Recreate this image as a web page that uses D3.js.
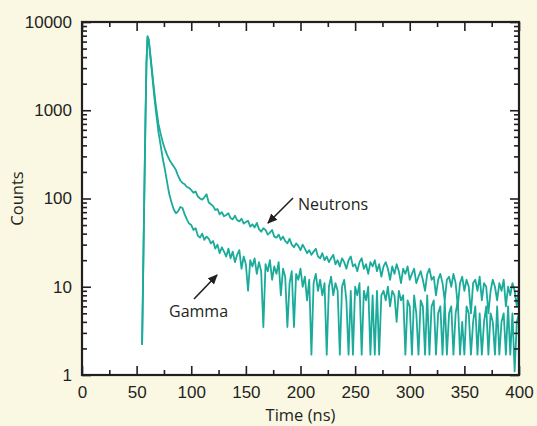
<!DOCTYPE html>
<html>
<head>
<meta charset="utf-8">
<script src="https://cdn.jsdelivr.net/npm/d3@7"></script>
<style>
  body { margin: 0; background: #faf7e3; }
  svg { display: block; font-family: "Open Sans", sans-serif; }
</style>
</head>
<body>
<div class="container"></div>
<script>
// time grid (ns): fine steps over the rise and peak, then 2 ns bins
const earlyTimes = [55, 56, 57, 58, 59, 60, 61, 62, 63, 64, 65, 66, 67, 68, 69, 70];
const lateTimes = d3.range(72, 401, 2);
const times = earlyTimes.concat(lateTimes);

// counts
const neutrons = [
  2.2, 15, 110, 700, 3500, 6900, 6400, 5000, 3800, 2900, 2200, 1700, 1300, 1050, 850, 700,
  540, 430, 360, 310, 275, 250, 230, 210, 180, 160, 150, 145, 135, 132, 125, 116, 120, 106, 100, 97,
  103, 112, 90, 86,
  82, 74, 76, 66, 70, 63, 65, 68, 60, 58,
  64, 57, 55, 59, 52, 54, 56, 48, 51, 47,
  53, 45, 42, 46, 44, 39, 41, 44, 37, 36,
  39, 34, 37, 33, 31, 35, 30, 28, 31, 29,
  26, 30, 27, 24, 26, 23, 25, 27, 22, 21,
  24, 20, 22, 19, 21, 23, 18, 20, 17, 21,
  19, 16, 20, 22, 17, 18, 15, 19, 21, 16,
  18, 14, 19, 17, 20, 15, 18, 13, 17, 19,
  16, 12, 17, 14, 18, 15, 11, 16, 14, 17,
  12,
  14, 16, 11, 13, 15, 12, 9, 14, 16, 12,
  13, 8, 12, 14, 11, 7, 12, 13, 10, 14,
  11, 6, 11, 13, 9, 12, 10, 5, 11, 12,
  9, 13, 7, 11, 10, 5, 9, 12, 10, 7,
  11, 9, 12, 6, 10, 8, 11, 9, 6, 10
];

const gamma = [
  2.2, 14, 100, 650, 3400, 6800, 6200, 4800, 3600, 2700, 2000, 1500, 1150, 900, 720, 560,
  400, 280, 210, 150, 110, 90, 75, 68, 72, 80, 78, 66, 58, 52, 50, 44, 46, 38, 36, 40,
  34, 37, 35, 31, 33, 27, 30, 24, 28, 25, 22, 27, 21, 25, 19, 23, 26, 16, 22, 18,
  9, 20, 17, 21, 14, 19, 15, 3.5, 18, 15, 20, 12, 17, 14, 19, 8, 16, 13, 3.5, 11,
  15, 3.5, 14, 12, 16, 10, 13, 7, 12, 1.7, 11, 14, 9, 12, 8, 11, 1.7, 10, 13, 8,
  11, 9, 1.7, 10, 12, 7, 1.7, 9, 1.7, 10, 8, 11, 1.7, 9, 7, 10, 1.7, 8, 1.7, 9,
  1.7, 8, 9, 7, 10, 6, 9, 8, 4, 9, 7, 8, 1.7, 7, 6, 1.7, 8, 5, 1.7, 7,
  6, 1.7, 8, 1.7, 6, 7, 1.7, 5, 6, 1.7, 7, 1.7, 5, 6, 1.7, 5, 7, 1.7, 4, 1.7,
  6, 5, 1.7, 4, 6, 1.7, 5, 1.7, 4, 6, 1.7, 5, 4, 1.7, 6, 1.7, 4, 5, 1.7, 6,
  1.7, 5, 1.1, 4, 5
];

const xTicks = [0, 50, 100, 150, 200, 250, 300, 350, 400];
const xMinorTicks = [25, 75, 125, 175, 225, 275, 325, 375];
const yTicks = [1, 10, 100, 1000, 10000];

const width = 537, height = 426;
const margin = { top: 22, right: 18, bottom: 51, left: 82 };
const lineColor = "#1aab9b";
const ink = "#231f20";

const svg = d3.select(".container")
  .append("svg")
  .attr("width", width)
  .attr("height", height);

svg.append("rect")
  .attr("width", width)
  .attr("height", height)
  .attr("fill", "#faf7e3");

const x = d3.scaleLinear().domain([0, 400]).range([margin.left, width - margin.right]);
const y = d3.scaleLog().domain([1, 10000]).range([height - margin.bottom, margin.top]);

// y minor ticks: 2..9 in every decade
const yMinorTicks = [];
yTicks.slice(0, -1).forEach(d => {
  for (let k = 2; k <= 9; k++) yMinorTicks.push(d * k);
});

// plot area
svg.append("rect")
  .attr("x", margin.left)
  .attr("y", margin.top)
  .attr("width", x(400) - x(0))
  .attr("height", y(1) - y(10000))
  .attr("fill", "#fff");

svg.append("clipPath")
  .attr("id", "clip")
  .append("rect")
  .attr("x", margin.left)
  .attr("y", margin.top)
  .attr("width", x(400) - x(0))
  .attr("height", y(1) - y(10000));

const line = d3.line()
  .defined((d, i) => times[i] !== undefined)
  .x((d, i) => x(times[i]))
  .y(d => y(d));

const curves = svg.append("g").attr("clip-path", "url(#clip)");
[gamma, neutrons].forEach(series => {
  curves.append("path")
    .datum(series)
    .attr("d", line)
    .attr("fill", "none")
    .attr("stroke", lineColor)
    .attr("stroke-width", 1.8)
    .attr("stroke-linejoin", "round");
});

// axes, ticks pointing inward
function axisLayer(axis, transform) {
  const g = svg.append("g").attr("transform", transform).call(axis);
  g.select(".domain").remove();
  g.selectAll(".tick line").attr("stroke", ink).attr("stroke-width", 1.6);
  g.selectAll(".tick text").attr("fill", ink).style("font-size", "17px");
  return g;
}

const bottomY = `translate(0,${y(1)})`;
const topY = `translate(0,${y(10000)})`;
const leftX = `translate(${x(0)},0)`;
const rightX = `translate(${x(400)},0)`;

axisLayer(d3.axisBottom(x).tickValues(xTicks).tickFormat(d3.format("d"))
  .tickSizeInner(-9).tickSizeOuter(0).tickPadding(11), bottomY);
axisLayer(d3.axisBottom(x).tickValues(xMinorTicks).tickFormat("")
  .tickSizeInner(-5).tickSizeOuter(0), bottomY);
axisLayer(d3.axisTop(x).tickValues(xTicks).tickFormat("")
  .tickSizeInner(-9).tickSizeOuter(0), topY);
axisLayer(d3.axisTop(x).tickValues(xMinorTicks).tickFormat("")
  .tickSizeInner(-5).tickSizeOuter(0), topY);

axisLayer(d3.axisLeft(y).tickValues(yTicks).tickFormat(d3.format("d"))
  .tickSizeInner(-9).tickSizeOuter(0).tickPadding(10), leftX);
axisLayer(d3.axisLeft(y).tickValues(yMinorTicks).tickFormat("")
  .tickSizeInner(-5).tickSizeOuter(0), leftX);
axisLayer(d3.axisRight(y).tickValues(yTicks).tickFormat("")
  .tickSizeInner(-9).tickSizeOuter(0), rightX);
axisLayer(d3.axisRight(y).tickValues(yMinorTicks).tickFormat("")
  .tickSizeInner(-5).tickSizeOuter(0), rightX);

// frame
svg.append("rect")
  .attr("x", x(0))
  .attr("y", y(10000))
  .attr("width", x(400) - x(0))
  .attr("height", y(1) - y(10000))
  .attr("fill", "none")
  .attr("stroke", ink)
  .attr("stroke-width", 2.2);

// axis titles
svg.append("text")
  .attr("x", (x(0) + x(400)) / 2)
  .attr("y", height - 5)
  .attr("text-anchor", "middle")
  .attr("fill", ink)
  .style("font-size", "16.5px")
  .text("Time (ns)");

svg.append("text")
  .attr("transform", `translate(23,${(y(1) + y(10000)) / 2}) rotate(-90)`)
  .attr("text-anchor", "middle")
  .attr("fill", ink)
  .style("font-size", "16.5px")
  .text("Counts");

// annotations
svg.append("defs").append("marker")
  .attr("id", "arrowHead")
  .attr("viewBox", "0 -5 10 10")
  .attr("refX", 9)
  .attr("refY", 0)
  .attr("markerWidth", 10)
  .attr("markerHeight", 10)
  .attr("markerUnits", "userSpaceOnUse")
  .attr("orient", "auto")
  .append("path")
  .attr("d", "M 0 -4.5 L 10 0 L 0 4.5 Z")
  .attr("fill", ink);

const notes = [
  { label: "Neutrons", tx: 298, ty: 210, from: [293, 198], to: [268, 223] },
  { label: "Gamma", tx: 169, ty: 317, from: [194, 299], to: [217, 275] }
];

notes.forEach(n => {
  svg.append("line")
    .attr("x1", n.from[0]).attr("y1", n.from[1])
    .attr("x2", n.to[0]).attr("y2", n.to[1])
    .attr("stroke", ink)
    .attr("stroke-width", 1.6)
    .attr("marker-end", "url(#arrowHead)");
  svg.append("text")
    .attr("x", n.tx)
    .attr("y", n.ty)
    .attr("fill", ink)
    .style("font-size", "16px")
    .text(n.label);
});
</script>
</body>
</html>
